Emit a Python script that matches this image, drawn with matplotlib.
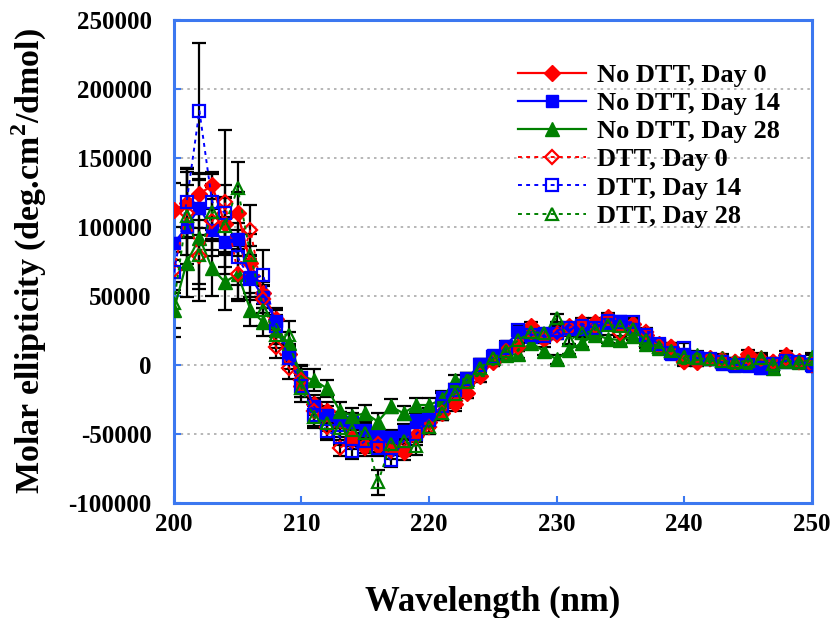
import matplotlib
matplotlib.use("Agg")
import matplotlib.pyplot as plt
import numpy as np

wavelength = list(range(200, 251))

# values in thousands of deg.cm2/dmol
nodtt_day0 = [112, 117, 124, 130, 102, 110, 74, 52, 33, 8,
              -15, -28, -33, -40, -53, -58, -59, -60, -63, -51,
              -41, -35, -28, -20, -8, 2, 10, 13, 28, 19,
              23, 28, 30, 31, 35, 30, 30, 22, 15, 13,
              3, 2, 5, 4, 2, 8, 3, 2, 7, 3, 1]
nodtt_day14 = [88, 100, 114, 98, 89, 91, 64, 49, 32, 8,
               -9, -30, -36, -40, -41, -47, -51, -52, -48, -40,
               -36, -23, -18, -10, 1, 7, 14, 24, 20, 23,
               23, 26, 26, 26, 30, 32, 26, 20, 15, 8,
               8, 6, 4, 1, -1, -1, -2, 1, 2, 2, -1]
nodtt_day28 = [40, 74, 92, 70, 60, 66, 40, 31, 25, 16,
               -8, -11, -17, -33, -37, -35, -41, -30, -35, -29,
               -29, -25, -11, -10, -3, 5, 7, 8, 16, 10,
               4, 11, 16, 22, 19, 18, 21, 15, 12, 10,
               6, 7, 5, 5, 1, 2, 6, -2, 3, 2, 6]
dtt_day0 = [69, 110, 79, 104, 118, 66, 98, 48, 13, -2,
            -11, -33, -45, -60, -55, -60, -57, -62, -60, -52,
            -45, -35, -26, -20, -8, 2, 10, 13, 24, 19,
            22, 27, 31, 28, 33, 23, 30, 24, 14, 13,
            2, 2, 4, 3, 2, 5, 4, 2, 5, 2, 0]
dtt_day14 = [67, 118, 184, 118, 110, 78, 62, 65, 28, 5,
             -15, -36, -48, -52, -62, -55, -60, -69, -55, -50,
             -40, -30, -18, -10, 0, 6, 12, 25, 22, 21,
             25, 27, 28, 27, 32, 31, 31, 22, 15, 9,
             12, 5, 4, 2, 0, 0, -2, 1, 3, 2, 0]
dtt_day28 = [45, 108, 80, 111, 101, 128, 80, 40, 22, 22,
             -17, -38, -42, -46, -47, -49, -85, -57, -55, -59,
             -45, -35, -21, -12, -2, 5, 10, 18, 24, 23,
             34, 18, 23, 25, 29, 28, 26, 18, 13, 10,
             6, 5, 4, 3, 2, 3, 5, 1, 3, 2, 4]

err_nodtt_day0 = [20, 25, 15, 10, 20, 15, 12, 8, 8, 6,
                  8, 6, 6, 6, 6, 6, 6, 5, 6, 5,
                  5, 5, 5, 4, 4, 3, 3, 3, 3, 3,
                  3, 3, 3, 3, 3, 3, 3, 3, 3, 3,
                  3, 3, 3, 3, 3, 3, 3, 3, 3, 3, 3]
err_nodtt_day14 = [12, 30, 20, 15, 18, 12, 15, 8, 8, 7,
                   8, 6, 6, 6, 6, 6, 5, 5, 5, 5,
                   5, 4, 4, 4, 3, 3, 3, 3, 3, 3,
                   3, 3, 3, 3, 3, 3, 3, 3, 3, 3,
                   3, 3, 3, 3, 3, 3, 3, 3, 3, 3, 3]
err_nodtt_day28 = [20, 25, 46, 20, 20, 18, 12, 10, 10, 8,
                   8, 8, 6, 6, 6, 6, 6, 5, 5, 5,
                   5, 5, 4, 4, 4, 3, 3, 3, 3, 3,
                   3, 3, 3, 3, 3, 3, 3, 3, 3, 3,
                   3, 3, 3, 3, 3, 3, 3, 3, 3, 3, 3]
err_dtt_day0 = [15, 30, 20, 25, 52, 20, 18, 10, 8, 8,
                8, 8, 8, 6, 6, 6, 6, 6, 6, 6,
                5, 5, 5, 4, 4, 3, 3, 3, 3, 3,
                3, 3, 3, 3, 3, 3, 3, 3, 3, 3,
                3, 3, 3, 3, 3, 3, 3, 3, 3, 3, 3]
err_dtt_day14 = [15, 25, 49, 20, 20, 20, 15, 18, 8, 8,
                 8, 8, 6, 6, 6, 6, 6, 5, 5, 5,
                 5, 5, 4, 4, 4, 3, 3, 3, 3, 3,
                 3, 3, 3, 3, 3, 3, 3, 3, 3, 3,
                 4, 3, 3, 3, 3, 3, 3, 3, 3, 3, 3]
err_dtt_day28 = [18, 35, 25, 20, 20, 19, 15, 12, 10, 10,
                 10, 8, 6, 6, 6, 6, 9, 6, 6, 6,
                 5, 5, 4, 4, 4, 3, 3, 3, 3, 3,
                 3, 3, 3, 3, 3, 3, 3, 3, 3, 3,
                 3, 3, 3, 3, 3, 3, 3, 3, 3, 3, 3]

labels = ["No DTT, Day 0", "No DTT, Day 14", "No DTT, Day 28",
          "DTT, Day 0", "DTT, Day 14", "DTT, Day 28"]

plt.rcParams['font.family'] = ['Liberation Serif', 'DejaVu Serif']
plt.rcParams['font.weight'] = 'bold'
plt.rcParams['axes.unicode_minus'] = False
plt.rcParams['mathtext.fontset'] = 'custom'
plt.rcParams['mathtext.rm'] = 'Liberation Serif:bold'
plt.rcParams['mathtext.bf'] = 'Liberation Serif:bold'

fig = plt.figure(figsize=(8.36, 6.18), dpi=100)
ax = fig.add_axes([0.208, 0.186, 0.763, 0.782])

x = np.array(wavelength)
series = [
    (nodtt_day0, err_nodtt_day0, 'red', 'D', True, 8),
    (nodtt_day14, err_nodtt_day14, 'blue', 's', True, 8.5),
    (nodtt_day28, err_nodtt_day28, 'green', '^', True, 9.5),
    (dtt_day0, err_dtt_day0, 'red', 'D', False, 7.5),
    (dtt_day14, err_dtt_day14, 'blue', 's', False, 8.5),
    (dtt_day28, err_dtt_day28, 'green', '^', False, 9),
]
handles = []
for (vals, errs, col, mk, filled, ms), lab in zip(series, labels):
    y = np.array(vals) * 1000.0
    e = np.array(errs) * 1000.0
    ax.errorbar(x, y, yerr=e, fmt='none', ecolor='black', elinewidth=1.6,
                capsize=5, capthick=1.6, zorder=2)
    if filled:
        h, = ax.plot(x, y, color=col, lw=1.6, ls='-', marker=mk, ms=ms,
                     mfc=col, mec=col, zorder=3, label=lab)
    else:
        h, = ax.plot(x, y, color=col, lw=1.4, ls=(0, (2, 2.2)), marker=mk, ms=ms,
                     mfc='none', mec=col, mew=1.6, zorder=3, label=lab)
    handles.append(h)

ax.set_xlim(200, 250)
ax.set_ylim(-100000, 250000)
ax.set_xticks(range(200, 251, 10))
ax.set_yticks(range(-100000, 250001, 50000))
ax.yaxis.grid(True, color='#aaaaaa', ls=(0, (1.5, 2.5)), lw=1.2)
ax.set_axisbelow(True)

spine_col = '#3c78f0'
for s in ax.spines.values():
    s.set_color(spine_col)
    s.set_linewidth(2.2)
ax.tick_params(axis='both', direction='in', color=spine_col, length=5, width=1.5,
               labelsize=18)
ax.tick_params(axis='y', pad=16)
ax.tick_params(axis='x', pad=7)
for t in ax.get_xticklabels() + ax.get_yticklabels():
    t.set_fontweight('bold')

ax.set_xlabel("Wavelength (nm)", fontsize=25, fontweight='bold', labelpad=36)
ax.set_ylabel("Molar ellipticity (deg.cm$^{2}$/dmol)", fontsize=24.5,
              fontweight='bold', labelpad=14)

leg = ax.legend(handles=handles, loc='upper left', bbox_to_anchor=(0.539, 0.91),
                frameon=False, fontsize=19, handlelength=2.6, labelspacing=0.18,
                handletextpad=0.42, borderaxespad=0, borderpad=0)
for t in leg.get_texts():
    t.set_fontweight('bold')

fig.savefig("out.png", dpi=100)
